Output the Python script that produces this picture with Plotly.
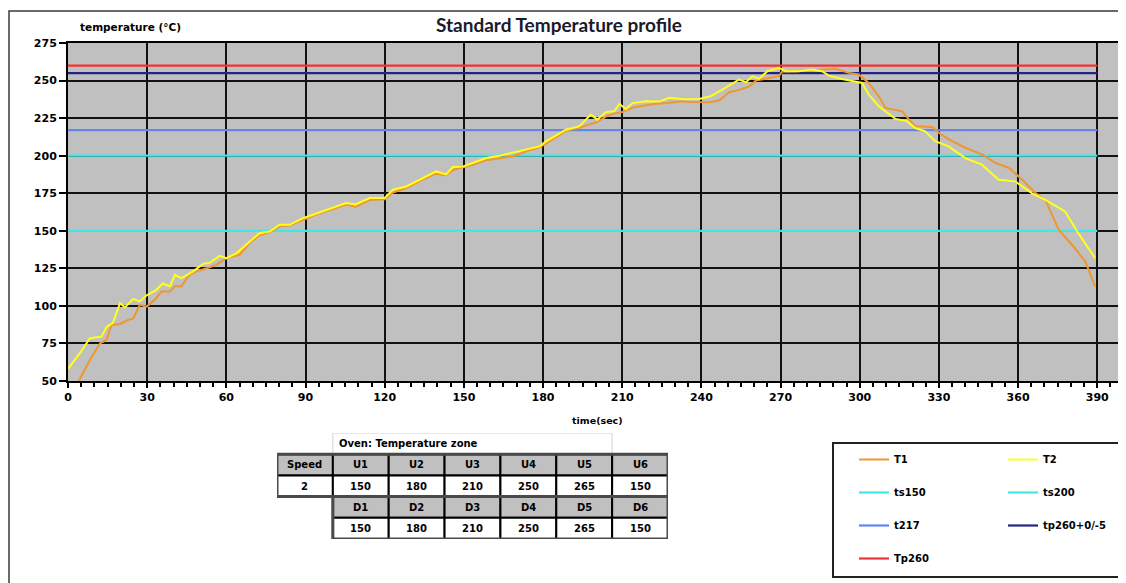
import plotly.graph_objects as go

# page has an 8px body margin, so the figure is 8px smaller and all positions are offset
PAGE_W, PAGE_H = 1126, 583
OX, OY = 8, 8
W, H = PAGE_W - OX, PAGE_H - OY

# ---------------- data ----------------
t1_time = [0, 4.3, 8.3, 12.1, 14.6, 16.5, 19.7, 22.8, 24.7, 27.2, 29.8, 32.9, 35.4, 38.6, 40.5, 43, 46, 48.7,
           52.5, 56.3, 60, 65, 68.9, 72.6, 76.4, 80.2, 84, 89, 92.8, 97.8, 101.6, 105.4, 109, 114.3, 120, 123.1,
           128.2, 133.2, 139.5, 143.3, 145.8, 149.6, 153.4, 158.5, 163.5, 168.5, 174.8, 178.6, 181.1, 184.9,
           188.7, 193.7, 198.1, 200.6, 203.8, 207, 210, 213.9, 219, 222.7, 227, 232.8, 236.5, 242.9, 246.7,
           250.5, 254.3, 258.1, 260.6, 263.2, 269.4, 270.6, 275.7, 283.3, 290.8, 295.9, 299.6, 303.4, 307.2,
           309.8, 312.3, 316.1, 318.7, 321.2, 327.5, 330.1, 333.9, 340.2, 346.5, 351.5, 356.6, 361.6, 366.6,
           370.3, 375.4, 380.4, 385.5, 389.2]
t1_temp = [38, 50.7, 64, 75, 77.3, 87.3, 88, 90.7, 91.5, 100.7, 99.5, 104, 109.5, 109.5, 113, 113, 120.7, 123,
           125, 127.3, 131.8, 134, 142, 147, 149, 153, 153.5, 157.5, 160, 163, 165.5, 167.5, 166, 170.5, 171,
           175.5, 178.5, 183, 188, 187, 190.5, 192, 194, 197, 198.5, 199.5, 203.5, 205.5, 208, 212.5, 216.5,
           218.5, 221, 222.5, 226, 228, 229, 232, 233.5, 234.5, 235, 236.2, 235.8, 235.5, 236.7, 242.2, 243.8,
           246, 250, 251, 252.9, 256, 256.2, 257, 257.8, 255.1, 254, 248.4, 239.5, 231.8, 230.7, 229.5, 224,
           219.5, 219.1, 215.1, 210.7, 205.1, 200.7, 195.1, 191.8, 184, 175.1, 170.7, 150.7, 140.7, 129.5, 112.9]

t2_time = [0, 4.5, 8.3, 12.7, 14.6, 17, 19.7, 21.6, 24.7, 27.2, 29.8, 33.5, 36, 38.6, 40.5, 43, 47.4, 51.2,
           53.7, 57.5, 60, 63.8, 68.9, 72.6, 76.4, 80.2, 84, 89, 92.8, 97.8, 101.6, 105.4, 109, 114.3, 120,
           123.1, 128.2, 133.2, 139.5, 143.3, 145.8, 149.6, 153.4, 158.5, 163.5, 168.5, 174.8, 178.6, 181.1,
           184.9, 188.7, 193.7, 198.1, 200.6, 203.8, 207, 208.9, 211.4, 213.9, 219, 224, 227.8, 233, 239.1,
           243.5, 247.9, 251.1, 254.3, 256.9, 259.3, 261.8, 265, 269.4, 271.9, 277, 282, 285.7, 288.3, 293.3,
           298.4, 300.9, 303.4, 307.2, 313.5, 317.9, 321, 324.8, 328.6, 333.7, 340, 346.3, 352.6, 358.9,
           365.2, 370.2, 377.8, 382.8, 389.2]
t2_temp = [58, 68.5, 78.5, 79.5, 86, 88.5, 101.8, 99, 104.7, 103, 107, 110.7, 115, 113, 120.7, 118.5, 123, 128,
           128.7, 133.3, 131.8, 135, 142.9, 148.4, 149.5, 154, 154, 158.4, 160.7, 164, 166.2, 168.5, 167.5,
           171.8, 171.8, 177.3, 179.5, 184, 189.5, 187.5, 192.4, 192.7, 195, 198.4, 200, 202, 204.5, 206.2,
           209.5, 213.3, 217.3, 219.5, 227.3, 224, 229, 229.5, 234.5, 231, 235, 236.2, 236, 238.5, 237.5,
           237.8, 239.5, 244, 247.3, 250.7, 248.9, 252.9, 251.1, 256.2, 258.4, 256.2, 256.2, 257.3, 256.2,
           253.3, 251.1, 249.6, 248.4, 240.7, 232.9, 224.5, 223, 218.4, 216.2, 209.6, 206.2, 198.4, 194, 184,
           182.9, 175.1, 170.7, 162.9, 148.4, 131.8]

ref_names = ["ts150", "ts200", "t217", "tp260+0/-5", "Tp260"]
ref_values = [150, 200, 217, 255, 260]
ref_span = [0, 390]

x_ticks = list(range(0, 391, 30))
y_ticks = list(range(50, 276, 25))

zone_title = "Oven: Temperature zone"
speed_label = "Speed"
speed_value = "2"
upper_zones = ["U1", "U2", "U3", "U4", "U5", "U6"]
upper_temps = [150, 180, 210, 250, 265, 150]
lower_zones = ["D1", "D2", "D3", "D4", "D5", "D6"]
lower_temps = [150, 180, 210, 250, 265, 150]

# ---------------- styles ----------------
ref_colors = ["#3ee8e8", "#3ee8e8", "#6585ee", "#232385", "#f03434"]
ref_legend = ["legend", "legend2", "legend", "legend2", "legend"]
ref_rank = [2, 2, 3, 3, 4]
GRAY = "#c0c0c0"
FONT = "DejaVu Sans"


def fx(px):
    """page pixel x -> paper fraction"""
    return (px - OX) / W


def fy(py):
    """page pixel y -> paper fraction"""
    return 1 - (py - OY) / H


fig = go.Figure()

for name, val, col, lg, rk in zip(ref_names, ref_values, ref_colors, ref_legend, ref_rank):
    fig.add_trace(go.Scatter(x=ref_span, y=[val, val], mode="lines", name=name,
                             line=dict(color=col, width=2.2), legend=lg, legendrank=rk,
                             legendgroup=name, hoverinfo="skip"))

fig.add_trace(go.Scatter(x=t1_time, y=t1_temp, mode="lines", name="T1",
                         line=dict(color="#f0962e", width=2), legend="legend", legendrank=1,
                         legendgroup="T1"))
fig.add_trace(go.Scatter(x=t2_time, y=t2_temp, mode="lines", name="T2",
                         line=dict(color="#ffff1e", width=2), legend="legend2", legendrank=1,
                         legendgroup="T2"))

# invisible trace so the table axes exist
fig.add_trace(go.Scatter(x=[0], y=[0], xaxis="x2", yaxis="y2", mode="markers",
                         marker=dict(opacity=0), showlegend=False, hoverinfo="skip"))

axis_font = dict(family=FONT, size=11, color="black", weight="bold")

fig.update_layout(
    width=W, height=H,
    margin=dict(l=0, r=0, t=0, b=0, autoexpand=False),
    paper_bgcolor="white",
    plot_bgcolor="rgba(0,0,0,0)",
    title=dict(text="Standard Temperature profile", x=fx(559), y=fy(25),
               xanchor="center", yanchor="middle", automargin=False,
               font=dict(family="Lato", size=19, color="#1a1a2a", weight="bold")),
    xaxis=dict(domain=[fx(68), fx(1121)], range=[0, 399], tickvals=x_ticks,
               showgrid=True, gridcolor="#111111", gridwidth=2,
               showline=True, linecolor="black", linewidth=2, mirror=True,
               ticks="outside", ticklen=5, tickwidth=2, tickcolor="black",
               minor=dict(dtick=5, tick0=0, ticks="outside", ticklen=4, tickwidth=1.5,
                          tickcolor="black", showgrid=False),
               tickfont=axis_font, zeroline=False, anchor="y", automargin=False),
    yaxis=dict(domain=[fy(381), fy(43)], range=[50, 275], tickvals=y_ticks,
               showgrid=True, gridcolor="#111111", gridwidth=2,
               showline=True, linecolor="black", linewidth=2,
               ticks="outside", ticklen=7, tickwidth=2, tickcolor="black",
               tickfont=axis_font, zeroline=False, anchor="x", automargin=False),
    xaxis2=dict(domain=[fx(277), fx(668)], range=[0, 7], visible=False, anchor="y2",
                fixedrange=True, automargin=False),
    yaxis2=dict(domain=[fy(539), fy(433)], range=[5, 0], visible=False, anchor="x2",
                fixedrange=True, automargin=False),
    legend=dict(x=fx(854), y=fy(445), xanchor="left", yanchor="top",
                bgcolor="rgba(0,0,0,0)", borderwidth=0, tracegroupgap=14,
                traceorder="grouped",
                font=dict(family=FONT, size=10, color="black", weight="bold")),
    legend2=dict(x=fx(1003), y=fy(445), xanchor="left", yanchor="top",
                 bgcolor="rgba(0,0,0,0)", borderwidth=0, tracegroupgap=14,
                 traceorder="grouped",
                 font=dict(family=FONT, size=10, color="black", weight="bold")),
    showlegend=True,
)

shapes = []
annotations = []

# gray plot area
shapes.append(dict(type="rect", xref="x domain", yref="y domain", x0=0, x1=1, y0=0, y1=1,
                   fillcolor=GRAY, line=dict(width=0), layer="below"))
# outer chart border and legend box
shapes.append(dict(type="rect", xref="paper", yref="paper", x0=fx(9), y0=fy(11), x1=fx(1140),
                   y1=fy(600), line=dict(color="#3a3a3a", width=1.5), layer="below"))
shapes.append(dict(type="rect", xref="paper", yref="paper", x0=fx(833), y0=fy(443), x1=fx(1122),
                   y1=fy(577), line=dict(color="#222222", width=2), layer="below"))

# axis titles
annotations.append(dict(text="temperature (°C)", xref="paper", yref="paper", x=fx(78), y=fy(27),
                        xanchor="left", yanchor="middle", showarrow=False,
                        font=dict(family=FONT, size=10.5, color="black", weight="bold")))
annotations.append(dict(text="time(sec)", xref="paper", yref="paper", x=fx(597), y=fy(420),
                        xanchor="center", yanchor="middle", showarrow=False,
                        font=dict(family=FONT, size=9.5, color="black", weight="bold")))

# table
cells = [(0, 1, speed_label, GRAY), (0, 2, speed_value, "white")]
for i in range(len(upper_zones)):
    cells.append((i + 1, 1, upper_zones[i], GRAY))
    cells.append((i + 1, 2, str(upper_temps[i]), "white"))
    cells.append((i + 1, 3, lower_zones[i], GRAY))
    cells.append((i + 1, 4, str(lower_temps[i]), "white"))

shapes.append(dict(type="rect", xref="x2", yref="y2", x0=1, x1=6, y0=0, y1=1,
                   fillcolor="white", line=dict(color="#c4dcc4", width=1)))
annotations.append(dict(text=zone_title, xref="x2", yref="y2", x=1.08, y=0.5, xanchor="left",
                        yanchor="middle", showarrow=False,
                        font=dict(family=FONT, size=10, color="black", weight="bold")))
for c, r, txt, fill in cells:
    shapes.append(dict(type="rect", xref="x2", yref="y2", x0=c, x1=c + 1, y0=r, y1=r + 1,
                       fillcolor=fill, line=dict(color="black", width=2)))
    annotations.append(dict(text=txt, xref="x2", yref="y2", x=c + 0.5, y=r + 0.5,
                            xanchor="center", yanchor="middle", showarrow=False,
                            font=dict(family=FONT, size=10, color="black", weight="bold")))
shapes.append(dict(type="rect", xref="x2", yref="y2", x0=0, x1=7, y0=1, y1=3,
                   line=dict(color="#4a4a4a", width=3)))
shapes.append(dict(type="rect", xref="x2", yref="y2", x0=1, x1=7, y0=3, y1=5,
                   line=dict(color="#4a4a4a", width=3)))

fig.update_layout(shapes=shapes, annotations=annotations)

fig.write_html("out.html")
